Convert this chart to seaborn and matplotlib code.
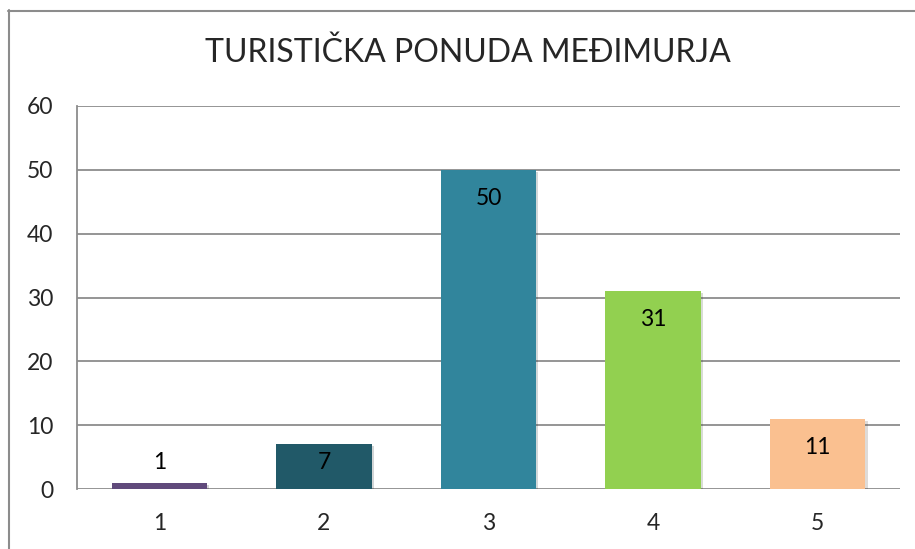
import matplotlib
matplotlib.use("Agg")
import matplotlib.pyplot as plt
import matplotlib.patheffects as pe
import seaborn as sns
import pandas as pd
from matplotlib.lines import Line2D

categories = ["1", "2", "3", "4", "5"]
values = [1, 7, 50, 31, 11]
colors = ["#604A7B", "#215968", "#31859C", "#92D050", "#FAC090"]
title = "TURISTIČKA PONUDA MEĐIMURJA"
yticks = [0, 10, 20, 30, 40, 50, 60]

sns.set_style("white")
plt.rcParams["font.family"] = ["Lato", "DejaVu Sans"]

df = pd.DataFrame({"cat": categories, "val": values})

W, H = 915, 549
fig = plt.figure(figsize=(W / 100, H / 100), dpi=100)
ax = fig.add_axes([77 / W, 60 / H, 823 / W, 383 / H])

sns.barplot(data=df, x="cat", y="val", hue="cat", palette=colors,
            width=0.58, legend=False, ax=ax, saturation=1, zorder=3,
            linewidth=0)
for p in ax.patches:
    p.set_path_effects([pe.SimplePatchShadow(offset=(1.5, -1.5), alpha=0.18),
                        pe.Normal()])

ax.set_ylim(0, 60)
ax.set_yticks(yticks)
ax.set_xlim(-0.5, 4.5)
ax.grid(axis="y", color="#8C8C8C", linewidth=1.3, zorder=0)
ax.set_axisbelow(True)
for s in ["top", "right", "bottom"]:
    ax.spines[s].set_visible(False)
ax.spines["left"].set_color("#8C8C8C")
ax.spines["left"].set_linewidth(1.3)
ax.tick_params(axis="y", length=0, pad=17, labelsize=16.5)
ax.tick_params(axis="x", length=0, pad=17, labelsize=16.5)
ax.set_xlabel("")
ax.set_ylabel("")

for i, v in enumerate(values):
    ax.text(i, max(v - 4.5, 4.1), str(v), ha="center", va="center",
            fontsize=16.5, color="black", zorder=5)

fig.text(468 / W, 1 - 53 / H, title, ha="center", va="center", fontsize=23)

fig.add_artist(Line2D([8.5 / W, 8.5 / W], [0, 1 - 10 / H], color="#8C8C8C", lw=1.5))
fig.add_artist(Line2D([8 / W, 1], [1 - 10.5 / H, 1 - 10.5 / H], color="#8C8C8C", lw=1.5))

fig.savefig("out.png", dpi=100)
